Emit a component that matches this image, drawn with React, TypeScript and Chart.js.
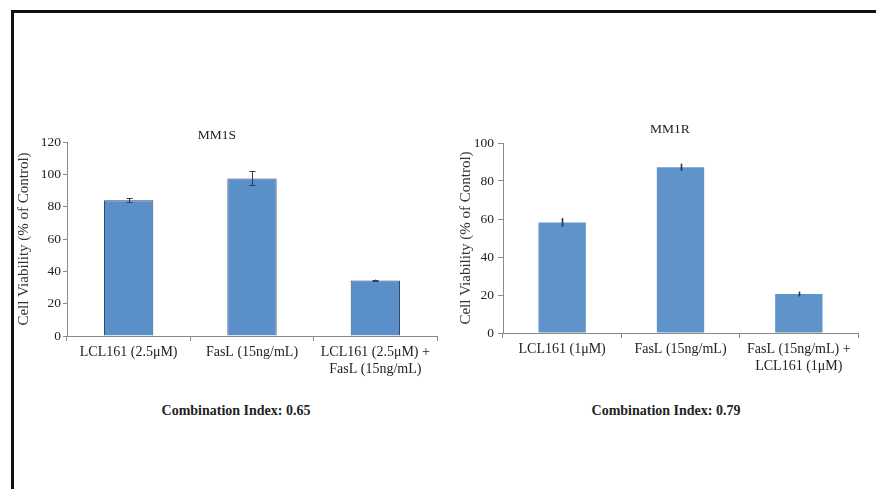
import React, { useEffect, useRef } from "react";
import { Chart, registerables } from "chart.js";

Chart.register(...registerables);

// ---- Data ----
const leftTitle = "MM1S";
const leftCategories: (string | string[])[] = [
  "LCL161 (2.5μM)",
  "FasL (15ng/mL)",
  ["LCL161 (2.5μM) +", "FasL (15ng/mL)"],
];
const leftValues = [84, 97.5, 34.4];
const leftErrors = [1.2, 4.4, 0.5];
const leftTicks = [0, 20, 40, 60, 80, 100, 120];
const leftCI = "Combination Index: 0.65";

const rightTitle = "MM1R";
const rightCategories: (string | string[])[] = [
  "LCL161 (1μM)",
  "FasL (15ng/mL)",
  ["FasL (15ng/mL) +", "LCL161 (1μM)"],
];
const rightValues = [58.2, 87.2, 20.5];
const rightErrors = [2.3, 1.9, 1.3];
const rightTicks = [0, 20, 40, 60, 80, 100];
const rightCI = "Combination Index: 0.79";

const yTitle = "Cell Viability (% of Control)";

const FONT = "'Liberation Serif', 'Times New Roman', serif";

type PanelProps = {
  categories: (string | string[])[];
  values: number[];
  errors: number[];
  ticks: number[];
  bordered: boolean;
  caps: boolean;
  yWidth: number;
  xHeight: number;
  padTop: number;
  padRight: number;
  tickLen: number;
  tickPad: number;
  width: number;
  height: number;
};

function BarPanel(p: PanelProps) {
  const ref = useRef<HTMLCanvasElement | null>(null);
  useEffect(() => {
    if (!ref.current) return;
    const errorPlugin = {
      id: "errbars",
      afterDatasetsDraw(chart: any) {
        const ctx = chart.ctx;
        const meta = chart.getDatasetMeta(0);
        const ys = chart.scales.y;
        ctx.save();
        ctx.strokeStyle = p.bordered ? "#2a3f5c" : "#2b3340";
        ctx.lineWidth = p.bordered ? 1 : 1.6;
        meta.data.forEach((bar: any, i: number) => {
          const v = p.values[i];
          const e = p.errors[i];
          const x = Math.round(bar.x) + 0.5;
          const y1 = ys.getPixelForValue(v + e);
          const y2 = ys.getPixelForValue(v - e);
          ctx.beginPath();
          ctx.moveTo(x, y1);
          ctx.lineTo(x, y2);
          if (p.caps) {
            ctx.moveTo(x - 3, Math.round(y1) + 0.5);
            ctx.lineTo(x + 3, Math.round(y1) + 0.5);
            ctx.moveTo(x - 3, Math.round(y2) + 0.5);
            ctx.lineTo(x + 3, Math.round(y2) + 0.5);
          }
          ctx.stroke();
        });
        ctx.restore();
      },
    };
    const chart = new Chart(ref.current, {
      type: "bar",
      data: {
        labels: p.categories as any,
        datasets: [
          {
            data: p.values,
            backgroundColor: p.bordered ? "#5b8fc9" : "#5f93c9",
            borderColor: p.bordered ? "#2f4a6d" : "#5f93c9",
            borderWidth: p.bordered ? 1 : 0,
            categoryPercentage: 1,
            barPercentage: 0.4,
          },
        ],
      },
      options: {
        animation: false,
        responsive: false,
        maintainAspectRatio: false,
        layout: { padding: { top: p.padTop, right: p.padRight, left: 0, bottom: 0 } },
        plugins: {
          legend: { display: false },
          tooltip: { enabled: false },
          title: { display: false },
        },
        scales: {
          x: {
            offset: true,
            grid: {
              offset: true,
              drawOnChartArea: false,
              drawTicks: true,
              tickLength: 5,
              color: "#8a8a8a",
            },
            border: { color: "#8a8a8a", width: 1 },
            ticks: {
              color: "#222",
              font: { family: FONT, size: 14 },
              padding: 3,
              maxRotation: 0,
              autoSkip: false,
            },
            afterFit(scale: any) {
              scale.height = p.xHeight;
            },
          },
          y: {
            min: 0,
            max: p.ticks[p.ticks.length - 1],
            afterBuildTicks(scale: any) {
              scale.ticks = p.ticks.map((v) => ({ value: v }));
            },
            grid: {
              drawOnChartArea: false,
              drawTicks: true,
              tickLength: p.tickLen,
              color: "#8a8a8a",
            },
            border: { color: "#8a8a8a", width: 1 },
            ticks: {
              color: "#222",
              font: { family: FONT, size: 13.5 },
              padding: p.tickPad,
            },
            title: {
              display: true,
              text: yTitle,
              color: "#333",
              font: { family: FONT, size: 15 },
              padding: { top: 0, bottom: 0 },
            },
            afterFit(scale: any) {
              scale.width = p.yWidth;
            },
          },
        },
      } as any,
      plugins: [errorPlugin],
    });
    return () => chart.destroy();
  }, []);
  return <canvas ref={ref} width={p.width} height={p.height} style={{ width: p.width, height: p.height, display: "block" }} />;
}

const textStyle: React.CSSProperties = {
  position: "absolute",
  fontFamily: FONT,
  color: "#222",
  whiteSpace: "nowrap",
  transform: "translateX(-50%)",
  lineHeight: "16px",
};

export default function App() {
  useEffect(() => {
    document.body.style.margin = "0";
  }, []);
  return (
    <div style={{ position: "fixed", left: 0, top: 0, width: 876, height: 489, background: "#fff", overflow: "hidden" }}>
      <div
        style={{
          position: "absolute",
          left: 11,
          top: 10,
          width: 900,
          height: 520,
          borderTop: "3px solid #111",
          borderLeft: "3px solid #111",
        }}
      />
      <div style={{ position: "absolute", left: 15, top: 130 }}>
        <BarPanel
          categories={leftCategories}
          values={leftValues}
          errors={leftErrors}
          ticks={leftTicks}
          bordered={true}
          caps={true}
          yWidth={52}
          xHeight={56}
          padTop={12}
          padRight={8}
          tickLen={4}
          tickPad={2}
          width={430}
          height={262}
        />
      </div>
      <div style={{ position: "absolute", left: 457, top: 130 }}>
        <BarPanel
          categories={rightCategories}
          values={rightValues}
          errors={rightErrors}
          ticks={rightTicks}
          bordered={false}
          caps={false}
          yWidth={46}
          xHeight={59}
          padTop={13}
          padRight={12}
          tickLen={5}
          tickPad={4}
          width={413}
          height={262}
        />
      </div>
      <div style={{ ...textStyle, left: 217, top: 127, fontSize: 13.5 }}>{leftTitle}</div>
      <div style={{ ...textStyle, left: 670, top: 121, fontSize: 13.5 }}>{rightTitle}</div>
      <div style={{ ...textStyle, left: 236, top: 403, fontSize: 14, fontWeight: "bold" }}>{leftCI}</div>
      <div style={{ ...textStyle, left: 666, top: 403, fontSize: 14, fontWeight: "bold" }}>{rightCI}</div>
    </div>
  );
}
